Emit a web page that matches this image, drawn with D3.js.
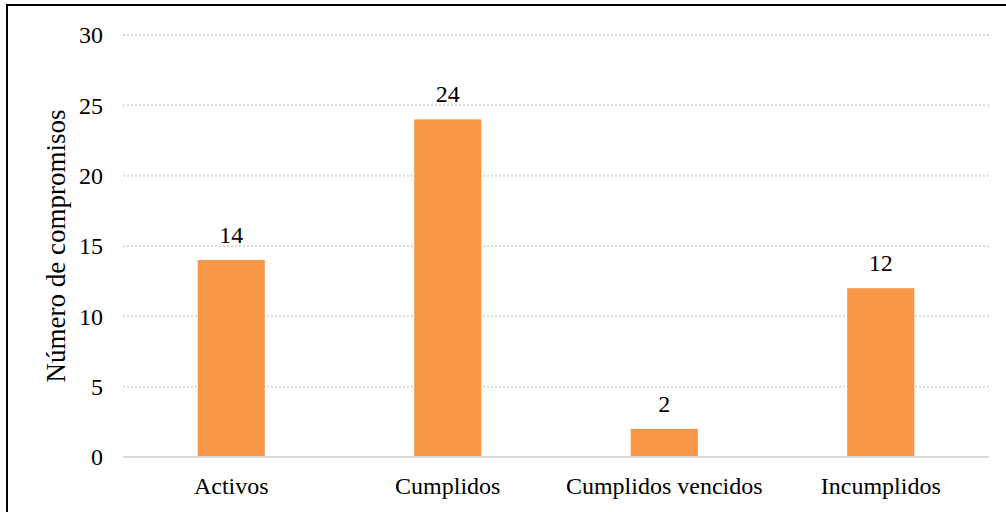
<!DOCTYPE html>
<html lang="es">
<head>
<meta charset="utf-8">
<title>Número de compromisos</title>
<script src="https://d3js.org/d3.v7.min.js"></script>
<style>
  body { margin: 0; background: #fff; }
  svg { display: block; font-family: "Liberation Serif", "Times New Roman", serif; }
</style>
</head>
<body>
<svg width="1006" height="512"></svg>
<script>
  var categories = ["Activos", "Cumplidos", "Cumplidos vencidos", "Incumplidos"];
  var values = [14, 24, 2, 12];
  var yTicks = [0, 5, 10, 15, 20, 25, 30];

  var svg = d3.select("svg");

  // frame around the figure
  svg.append("path")
    .attr("d", "M7,512 L7,5 L1006,5")
    .attr("fill", "none")
    .attr("stroke", "#000")
    .attr("stroke-width", 2);

  var x = d3.scaleBand().domain(categories).range([123, 989]).paddingInner(0.69).paddingOuter(0.345);
  var y = d3.scaleLinear().domain([0, 30]).range([457, 35]);

  // gridlines
  svg.append("g").selectAll("line")
    .data(yTicks.filter(d => d > 0))
    .enter().append("line")
      .attr("x1", 123).attr("x2", 989)
      .attr("y1", d => y(d)).attr("y2", d => y(d))
      .attr("stroke", "#d9d9d9")
      .attr("stroke-width", 2)
      .attr("stroke-dasharray", "2,2");

  // y tick labels
  svg.append("g").selectAll("text")
    .data(yTicks)
    .enter().append("text")
      .attr("x", 103)
      .attr("y", d => y(d))
      .attr("dy", "0.35em")
      .attr("text-anchor", "end")
      .style("font-size", "24px")
      .text(d => d);

  // bars
  svg.append("g").selectAll("rect")
    .data(values)
    .enter().append("rect")
      .attr("x", (d, i) => x(categories[i]))
      .attr("width", x.bandwidth())
      .attr("y", d => y(d))
      .attr("height", d => y(0) - y(d))
      .attr("fill", "#f79646");

  // baseline
  svg.append("line")
    .attr("x1", 123).attr("x2", 989)
    .attr("y1", y(0)).attr("y2", y(0))
    .attr("stroke", "#d9d9d9")
    .attr("stroke-width", 2);

  // value labels
  svg.append("g").selectAll("text")
    .data(values)
    .enter().append("text")
      .attr("x", (d, i) => x(categories[i]) + x.bandwidth() / 2)
      .attr("y", d => y(d) - 17)
      .attr("text-anchor", "middle")
      .style("font-size", "24px")
      .text(d => d);

  // category labels
  svg.append("g").selectAll("text")
    .data(categories)
    .enter().append("text")
      .attr("x", d => x(d) + x.bandwidth() / 2)
      .attr("y", 494)
      .attr("text-anchor", "middle")
      .style("font-size", "24px")
      .text(d => d);

  // y axis title
  svg.append("text")
    .attr("transform", "translate(65,246) rotate(-90)")
    .attr("text-anchor", "middle")
    .style("font-size", "27px")
    .text("Número de compromisos");
</script>
</body>
</html>
